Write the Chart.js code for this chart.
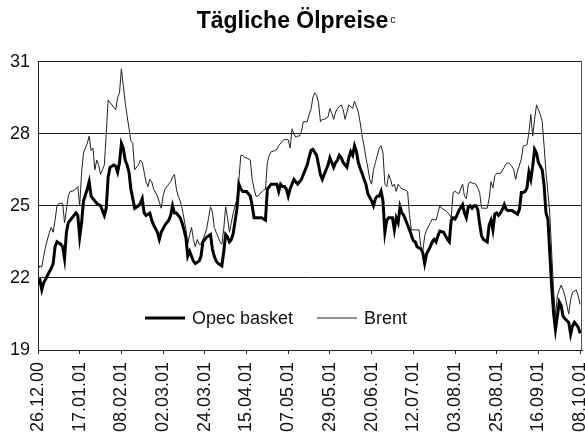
<!DOCTYPE html>
<html>
<head>
<meta charset="utf-8">
<title>Tägliche Ölpreise</title>
<script src="https://cdn.jsdelivr.net/npm/chart.js@4.4.1/dist/chart.umd.min.js"></script>
<style>
  html, body { margin: 0; padding: 0; background: #fff; }
</style>
</head>
<body>
<canvas id="oilChart" width="585" height="434"></canvas>
<script>
// Tick labels on the date axis, one every 22 days starting 26.12.00
const dateLabels = ['26.12.00', '17.01.01', '08.02.01', '02.03.01', '24.03.01', '15.04.01', '07.05.01',
                    '29.05.01', '20.06.01', '12.07.01', '03.08.01', '25.08.01', '16.09.01', '08.10.01'];
const labelStep = 22;

// Opec basket: days since 26.12.00 and price (USD/barrel)
const opecDays = [0, 1, 2, 3, 5, 7, 8, 9, 10, 12, 13, 14, 15, 16, 17, 19, 20, 21, 22, 23, 24, 26, 27, 28, 29, 30, 31, 33, 34, 35,
  36, 37, 38, 40, 41, 42, 43, 44, 45, 46, 47, 48, 49, 50, 51, 53, 54, 55, 56, 57, 59, 60, 61, 63, 64, 65, 67, 68, 69, 70,
  71, 72, 73, 75, 76, 78, 79, 80, 81, 82, 83, 85, 86, 87, 88, 89, 91, 92, 93, 94, 95, 97, 98, 99, 100, 101, 102, 103, 105, 106,
  107, 108, 110, 111, 112, 113, 114, 116, 117, 118, 120, 121, 122, 123, 125, 126, 127, 128, 129, 130, 131, 132, 133, 135, 136, 137, 139, 140, 142, 143,
  144, 145, 147, 148, 149, 150, 151, 153, 154, 155, 156, 157, 158, 159, 160, 161, 163, 164, 165, 166, 167, 168, 169, 170, 171, 172, 173, 174, 176, 177,
  178, 179, 180, 181, 182, 183, 184, 185, 186, 187, 188, 189, 190, 191, 192, 193, 195, 196, 198, 199, 200, 202, 203, 204, 205, 207, 208, 209, 210, 211,
  212, 214, 215, 216, 217, 218, 219, 220, 221, 222, 224, 225, 226, 227, 228, 229, 230, 231, 232, 233, 234, 235, 236, 237, 238, 239, 240, 241, 242, 243,
  244, 245, 246, 247, 248, 250, 251, 252, 253, 254, 255, 256, 257, 258, 259, 260, 261, 262, 263, 264, 266, 267, 268, 269, 270, 271, 272, 273, 274, 275,
  276, 277, 278, 280, 281, 282, 283, 285, 286];
const opecPrices = [21.8, 21.9, 21.5, 21.8, 22.1, 22.4, 22.6, 23.3, 23.5, 23.4, 23.3, 22.8, 23.9, 24.3, 24.4, 24.6, 24.7, 24.6, 23.7, 24.3, 25.2, 25.7, 26.0, 25.4, 25.3, 25.2, 25.1, 25.0, 24.8, 24.6,
  24.9, 26.2, 26.6, 26.7, 26.65, 26.4, 26.8, 27.6, 27.4, 26.9, 26.7, 26.4, 25.7, 25.3, 24.9, 25.0, 25.1, 25.3, 24.7, 24.6, 24.7, 24.4, 24.2, 23.9, 23.6, 23.9, 24.2, 24.3, 24.4, 24.6,
  25.0, 24.7, 24.7, 24.5, 24.3, 23.7, 22.9, 23.1, 22.9, 22.7, 22.6, 22.7, 22.9, 23.5, 23.6, 23.7, 23.8, 23.2, 22.9, 22.7, 22.6, 22.5, 23.1, 23.8, 23.7, 23.5, 23.6, 23.85, 24.9, 25.9,
  25.7, 25.6, 25.6, 25.5, 25.4, 25.0, 24.5, 24.5, 24.5, 24.5, 24.4, 25.7, 25.8, 25.9, 25.9, 25.9, 25.6, 25.9, 25.8, 25.8, 25.7, 25.4, 25.7, 26.1, 26.0, 25.9, 26.1, 26.3, 26.7, 27.0,
  27.3, 27.35, 27.1, 26.7, 26.3, 26.1, 26.3, 26.7, 27.0, 26.8, 26.6, 26.8, 26.9, 27.1, 27.0, 26.8, 26.6, 27.0, 27.25, 27.1, 27.5, 27.25, 26.8, 26.55, 26.35, 26.1, 25.9, 25.5, 25.2, 25.0,
  25.3, 25.4, 25.4, 25.6, 25.2, 23.9, 24.4, 24.5, 24.5, 24.5, 24.0, 24.5, 24.3, 24.96, 24.7, 24.6, 24.2, 24.0, 23.55, 23.5, 23.3, 23.2, 23.05, 22.6, 23.0, 23.3, 23.5, 23.6, 23.5, 23.75,
  23.95, 23.9, 23.75, 23.6, 23.5, 24.4, 24.5, 24.45, 24.6, 24.8, 25.05, 24.7, 24.5, 24.95, 25.0, 24.9, 25.0, 25.0, 24.85, 24.25, 23.75, 23.6, 23.55, 23.5, 24.2, 24.4, 24.0, 24.65, 24.7, 24.6,
  24.7, 24.85, 25.05, 24.85, 24.8, 24.8, 24.75, 24.7, 24.65, 24.85, 25.55, 25.55, 25.6, 25.75, 26.4, 26.1, 26.65, 27.35, 27.2, 26.8, 26.5, 25.85, 24.7, 24.45, 23.05, 21.65, 20.55, 19.85, 20.4, 21.0,
  20.85, 20.4, 20.3, 20.15, 19.65, 20.0, 20.15, 19.95, 19.7];

// Brent: days since 26.12.00 and price (USD/barrel)
const brentDays = [0, 1, 2, 3, 4, 6, 7, 8, 9, 10, 11, 13, 14, 16, 17, 18, 20, 21, 22, 23, 24, 26, 27, 28, 29, 30, 31, 32, 33, 34,
  35, 36, 37, 38, 40, 41, 42, 43, 44, 45, 46, 47, 49, 50, 51, 53, 54, 55, 57, 58, 59, 60, 61, 63, 65, 66, 67, 69, 70, 71,
  72, 73, 74, 75, 76, 78, 79, 80, 81, 82, 83, 84, 85, 86, 87, 88, 89, 90, 91, 92, 93, 94, 95, 96, 97, 98, 99, 100, 101, 102,
  103, 105, 106, 107, 108, 109, 110, 112, 113, 114, 115, 116, 117, 119, 120, 121, 122, 123, 125, 126, 127, 129, 130, 132, 133, 134, 135, 136, 137, 138,
  139, 140, 142, 143, 144, 145, 146, 147, 148, 149, 150, 151, 153, 154, 155, 156, 157, 158, 160, 161, 162, 163, 164, 166, 167, 169, 170, 171, 172, 173,
  174, 175, 176, 177, 178, 179, 180, 181, 182, 183, 184, 185, 186, 187, 188, 189, 190, 191, 192, 194, 195, 196, 197, 199, 201, 202, 203, 204, 205, 207,
  208, 210, 211, 212, 213, 215, 217, 218, 219, 220, 221, 222, 224, 225, 226, 227, 228, 229, 231, 232, 233, 234, 235, 237, 238, 239, 240, 241, 242, 244,
  246, 247, 248, 250, 251, 252, 253, 255, 256, 257, 258, 259, 260, 261, 262, 263, 264, 265, 266, 267, 268, 269, 270, 271, 272, 273, 274, 275, 276, 277,
  278, 280, 281, 282, 284, 285, 286];
const brentPrices = [22.36, 22.5, 22.45, 22.9, 23.3, 23.9, 24.1, 23.9, 24.4, 25.0, 25.1, 25.1, 24.3, 25.4, 25.6, 25.6, 25.7, 25.8, 25.0, 26.4, 27.2, 27.6, 27.9, 27.3, 27.4, 26.5, 26.9, 26.7, 26.3, 26.5,
  26.7, 28.0, 29.4, 29.3, 29.1, 29.0, 29.5, 29.7, 30.7, 30.0, 29.3, 28.75, 27.7, 27.6, 26.5, 26.7, 26.9, 26.8, 26.0, 25.8, 26.1, 26.0, 25.7, 25.4, 24.9, 25.4, 25.7, 25.9, 26.0, 26.2,
  26.3, 25.7, 25.4, 25.2, 24.9, 24.05, 23.4, 23.8, 24.1, 23.6, 23.3, 23.6, 23.4, 23.4, 23.6, 23.8, 24.05, 24.5, 24.96, 24.75, 24.1, 23.9, 23.7, 23.5, 23.4, 24.05, 24.96, 24.5, 23.9, 24.3,
  24.7, 25.3, 26.1, 27.1, 27.1, 27.0, 27.0, 26.9, 26.1, 25.7, 25.4, 25.4, 25.5, 25.65, 25.7, 26.8, 27.1, 27.25, 27.3, 27.35, 27.5, 27.7, 27.75, 27.75, 27.4, 28.2, 28.0, 27.85, 27.9, 27.9,
  28.1, 28.5, 28.5, 28.8, 29.0, 29.5, 29.7, 29.6, 29.3, 28.5, 28.6, 28.6, 28.7, 29.05, 28.85, 28.6, 28.9, 29.05, 29.2, 29.0, 28.6, 28.9, 29.2, 29.05, 29.35, 28.9, 28.45, 27.9, 27.5, 27.0,
  26.6, 26.1, 25.9, 26.5, 26.8, 27.1, 27.4, 27.5, 27.2, 25.9, 25.8, 26.3, 26.1, 25.8, 25.9, 25.6, 25.9, 25.8, 25.7, 25.65, 25.6, 24.6, 24.0, 24.0, 24.0, 23.3, 23.1, 23.75, 24.0, 24.3,
  24.45, 24.4, 24.7, 25.0, 24.9, 24.8, 24.65, 24.5, 25.55, 25.6, 25.55, 25.5, 25.9, 25.4, 25.3, 25.9, 26.0, 25.95, 25.9, 25.75, 25.55, 24.9, 24.9, 24.9, 25.3, 26.0, 25.75, 26.25, 26.35, 26.35,
  26.6, 26.75, 26.8, 26.65, 26.5, 26.1, 26.45, 26.95, 27.5, 27.5, 27.55, 28.05, 28.8, 27.9, 28.6, 29.2, 29.0, 28.8, 28.5, 27.5, 26.4, 25.55, 24.7, 23.05, 21.5, 20.4, 21.25, 21.5, 21.7, 21.5,
  21.25, 20.5, 21.1, 21.4, 21.5, 21.25, 20.9];

const seriesNames = ['Opec basket', 'Brent'];
const yTicks = { min: 19, max: 31, step: 3 };

const FONT = '"Liberation Sans", Arial, Helvetica, sans-serif';
Chart.defaults.font.family = FONT;
Chart.defaults.color = '#111';

const toPoints = (days, prices) => days.map((d, i) => ({ x: d, y: prices[i] }));

// legend sits inside the plot, below the curves
const inlineLegend = {
    id: 'inlineLegend',
    afterDraw(chart) {
        const ctx = chart.ctx;
        const y = 318;
        const starts = [145, 317];
        ctx.save();
        ctx.font = '18px ' + FONT;
        ctx.textBaseline = 'middle';
        ctx.fillStyle = '#111';
        chart.data.datasets.forEach((ds, i) => {
            const x = starts[i];
            ctx.beginPath();
            ctx.lineWidth = ds.borderWidth;
            ctx.strokeStyle = ds.borderColor;
            ctx.moveTo(x, y);
            ctx.lineTo(x + 40, y);
            ctx.stroke();
            ctx.fillText(ds.label, x + 47, y + 1);
        });
        ctx.restore();
    }
};

// frame on the right side + superscript footnote mark after the title
const frameAndMark = {
    id: 'frameAndMark',
    afterDraw(chart) {
        const ctx = chart.ctx;
        const a = chart.chartArea;
        ctx.save();
        ctx.strokeStyle = '#555';
        ctx.lineWidth = 1;
        ctx.beginPath();
        ctx.moveTo(a.right - 0.5, a.top);
        ctx.lineTo(a.right - 0.5, a.bottom);
        ctx.stroke();

        const t = chart.titleBlock;
        ctx.font = 'bold 23px ' + FONT;
        const w = ctx.measureText(t.options.text).width;
        const cx = (t.left + t.right) / 2;
        ctx.font = '11px ' + FONT;
        ctx.fillStyle = '#111';
        ctx.textBaseline = 'alphabetic';
        ctx.fillText('c', cx + w / 2 + 2, 23);
        ctx.restore();
    }
};

new Chart(document.getElementById('oilChart'), {
    type: 'line',
    data: {
        datasets: [{
            label: seriesNames[0],
            data: toPoints(opecDays, opecPrices),
            borderColor: '#000',
            borderWidth: 3,
            pointRadius: 0,
            tension: 0
        }, {
            label: seriesNames[1],
            data: toPoints(brentDays, brentPrices),
            borderColor: '#222',
            borderWidth: 1,
            pointRadius: 0,
            tension: 0
        }]
    },
    options: {
        responsive: false,
        animation: false,
        plugins: {
            legend: { display: false },
            tooltip: { enabled: false },
            title: {
                display: true,
                text: 'Tägliche Ölpreise',
                color: '#000',
                font: { size: 23, weight: 'bold' },
                padding: { top: 8, bottom: 26 }
            }
        },
        scales: {
            x: {
                type: 'linear',
                min: 0,
                max: 287,
                afterFit: (s) => { s.height = 84; s.paddingRight = 3; },
                border: { color: '#222', width: 1 },
                grid: { drawOnChartArea: false, drawTicks: true, tickLength: 4, color: '#222' },
                ticks: {
                    stepSize: labelStep,
                    includeBounds: false,
                    autoSkip: false,
                    minRotation: 90,
                    maxRotation: 90,
                    padding: 8,
                    font: { size: 18 },
                    callback: (v) => dateLabels[v / labelStep] || ''
                }
            },
            y: {
                min: yTicks.min,
                max: yTicks.max,
                afterFit: (s) => { s.width = 38; },
                border: { color: '#222', width: 1 },
                grid: { drawTicks: false, color: '#222' },
                ticks: {
                    stepSize: yTicks.step,
                    padding: 8,
                    font: { size: 18 }
                }
            }
        }
    },
    plugins: [inlineLegend, frameAndMark]
});
</script>
</body>
</html>
